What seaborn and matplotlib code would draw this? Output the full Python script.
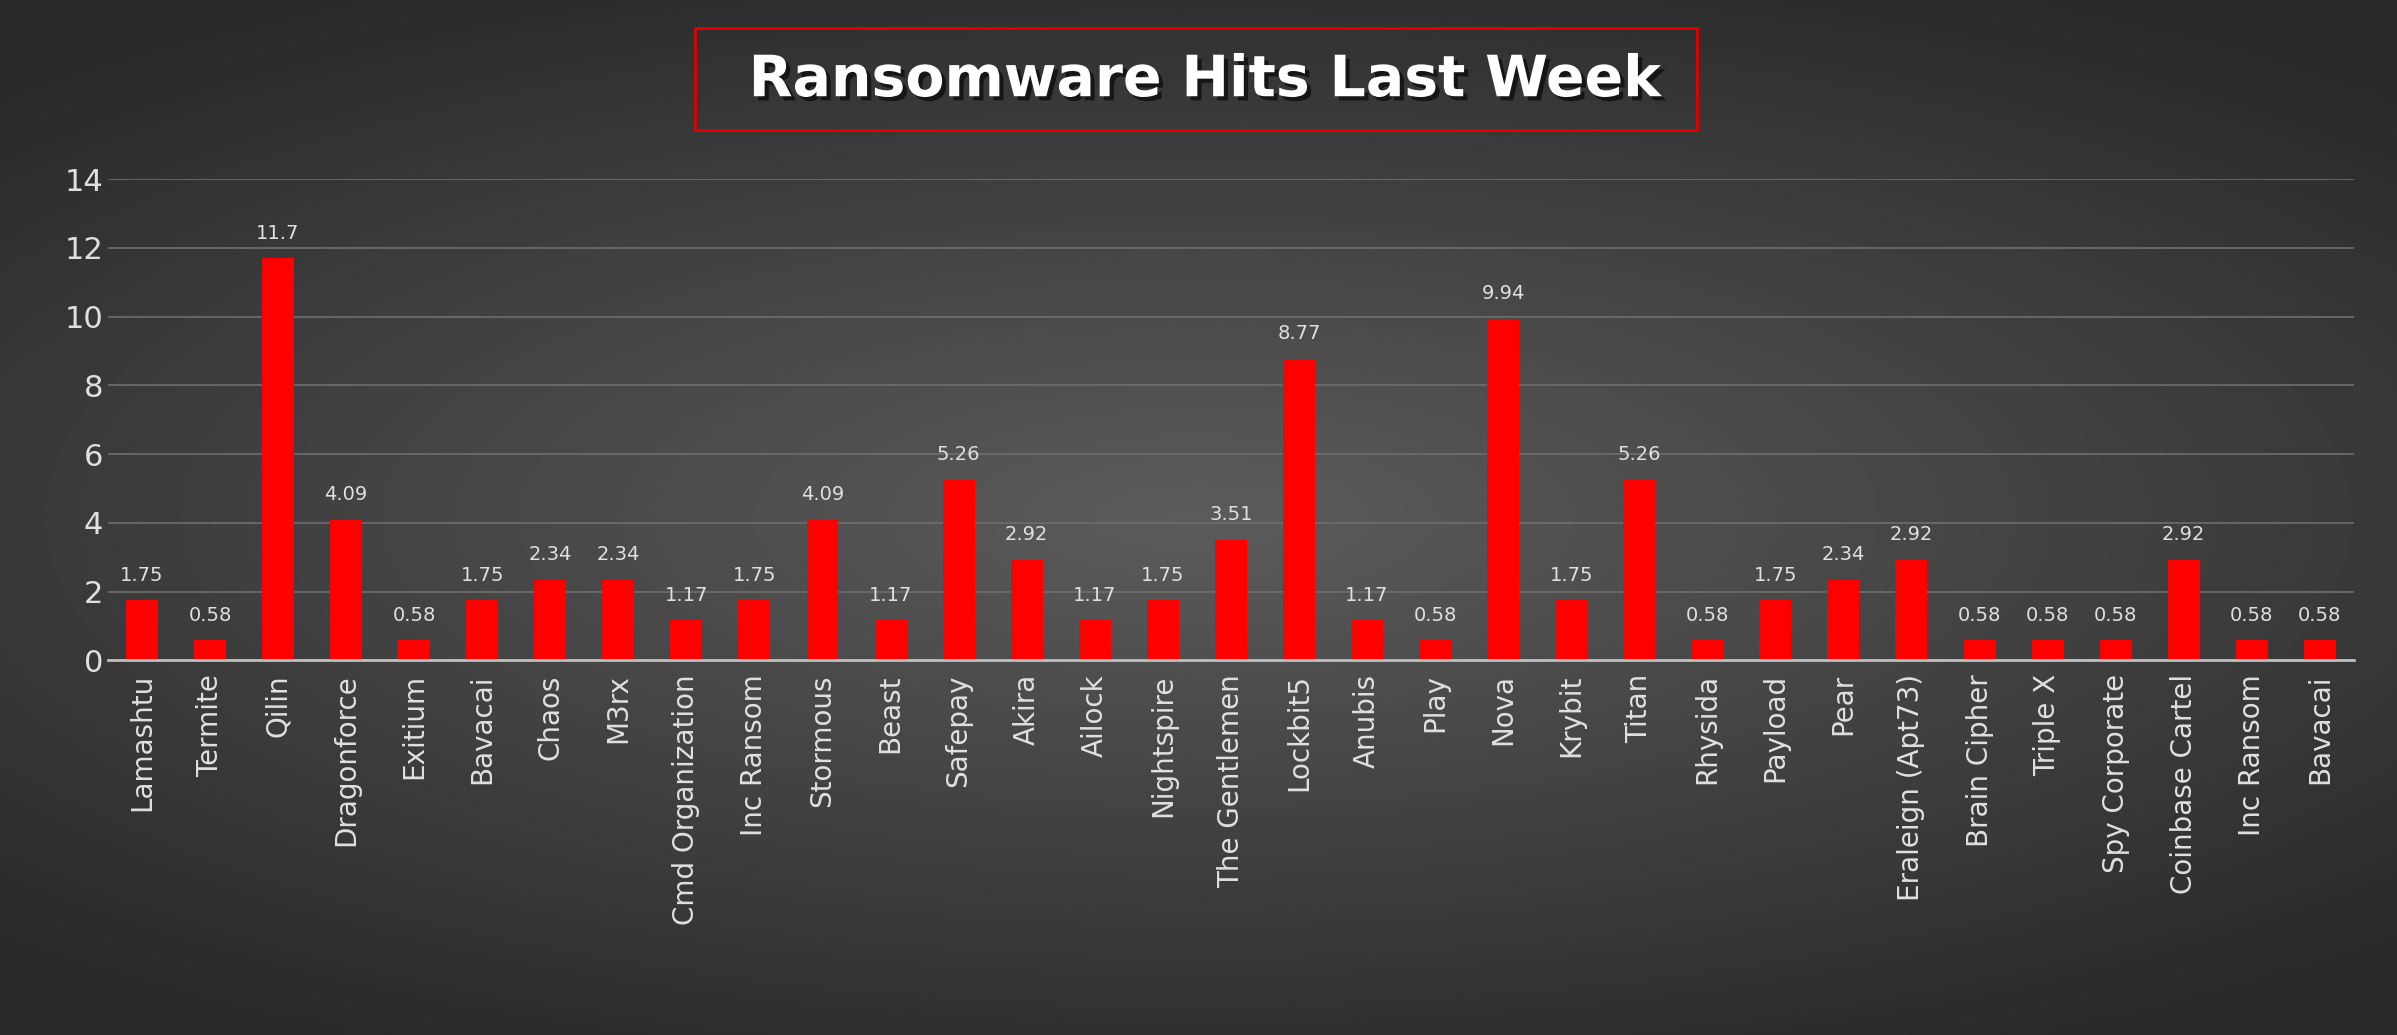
import numpy as np
import matplotlib
matplotlib.use("Agg")
import matplotlib.pyplot as plt
import matplotlib.patheffects as pe
import seaborn as sns
import pandas as pd
from matplotlib.patches import Rectangle

groups = ["Lamashtu","Termite","Qilin","Dragonforce","Exitium","Bavacai","Chaos","M3rx",
          "Cmd Organization","Inc Ransom","Stormous","Beast","Safepay","Akira","Ailock",
          "Nightspire","The Gentlemen","Lockbit5","Anubis","Play","Nova","Krybit","Titan",
          "Rhysida","Payload","Pear","Eraleign (Apt73)","Brain Cipher","Triple X",
          "Spy Corporate","Coinbase Cartel","Inc Ransom","Bavacai"]
hits = [1.75,0.58,11.7,4.09,0.58,1.75,2.34,2.34,1.17,1.75,4.09,1.17,5.26,2.92,1.17,
        1.75,3.51,8.77,1.17,0.58,9.94,1.75,5.26,0.58,1.75,2.34,2.92,0.58,0.58,0.58,2.92,0.58,0.58]
yticks = [0,2,4,6,8,10,12,14]

sns.set_style("white")
fig = plt.figure(figsize=(23.97,10.35), dpi=100)

bg = fig.add_axes([0,0,1,1]); bg.set_axis_off()
yy, xx = np.mgrid[-1:1:400j, -1:1:900j]
r = np.sqrt((xx*0.9)**2 + (yy*1.1)**2)
val = 0.36 - 0.2*np.clip(r,0,1.3)/1.3
bg.imshow(val, cmap="gray", vmin=0, vmax=1, aspect="auto", extent=[0,1,0,1])

ax = fig.add_axes([0.045,0.362,0.937,0.465])
ax.patch.set_alpha(0)
df = pd.DataFrame({"pos":[str(i) for i in range(len(groups))],"hits":hits})
sns.barplot(data=df, x="pos", y="hits", color="#ff0000", saturation=1, width=0.47,
            linewidth=0, edgecolor="none", ax=ax)
ax.set_ylim(0,14); ax.set_yticks(yticks)
ax.set_xlim(-0.5,len(groups)-0.5)
ax.set_xticks(range(len(groups)))
ax.set_xticklabels(groups, rotation=90, fontsize=20, color="#e0e0e0")
ax.tick_params(axis="y", labelsize=22, labelcolor="#e0e0e0", length=0)
ax.tick_params(axis="x", length=0, pad=10)
ax.set_xlabel(""); ax.set_ylabel("")
ax.grid(axis="y", color="#6e6e6e", linewidth=1.2)
ax.set_axisbelow(True)
for s in ["top","right","left"]:
    ax.spines[s].set_visible(False)
ax.spines["bottom"].set_color("#bfbfbf"); ax.spines["bottom"].set_linewidth(2)
for i, v in enumerate(hits):
    ax.text(i, v+0.45, f"{v:g}", ha="center", va="bottom", fontsize=14, color="#e0e0e0")

fig.text(0.503, 0.922, "Ransomware Hits Last Week", ha="center", va="center",
         fontsize=41, fontweight="bold", color="white",
         path_effects=[pe.withSimplePatchShadow(offset=(3,-3), shadow_rgbFace="black", alpha=0.6)])
fig.patches.append(Rectangle((0.290,0.874),0.418,0.099, transform=fig.transFigure,
                             fill=False, edgecolor="#e00000", linewidth=2))
fig.savefig("out.png", dpi=100)
